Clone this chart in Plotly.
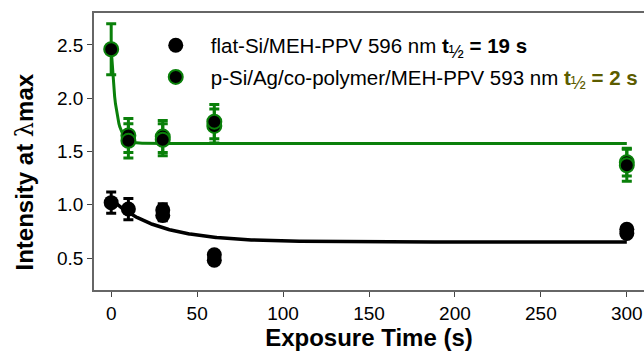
import numpy as np
import plotly.graph_objects as go

# ---- data ----
time_flat = [0, 10, 30, 30, 60, 60, 300, 300]
int_flat = [1.02, 0.96, 0.95, 0.90, 0.53, 0.48, 0.77, 0.73]
err_flat = [0.10, 0.10, 0.06, 0.05, 0.03, 0.03, 0.03, 0.03]

time_p = [0, 10, 10, 30, 30, 60, 60, 300, 300]
int_p = [2.46, 1.65, 1.60, 1.64, 1.61, 1.74, 1.78, 1.40, 1.37]
err_p = [0.24, 0.16, 0.16, 0.15, 0.15, 0.16, 0.16, 0.13, 0.15]

# exponential fits: plateau, amplitude, half-life (s)
fit_flat = dict(plateau=0.65, amp=0.40, thalf=19)
fit_p = dict(plateau=1.575, amp=0.885, thalf=2)

x_ticks = [0, 50, 100, 150, 200, 250, 300]
y_ticks = [0.5, 1.0, 1.5, 2.0, 2.5]

GREEN = "#0a800a"
OLIVE = "#5c5c00"

t_fit = np.linspace(0, 300, 601)


def fit_curve(p):
    return p["plateau"] + p["amp"] * np.exp(-np.log(2) / p["thalf"] * t_fit)


HALF = "<b>t</b><sub><span style='font-size:18px'>½</span></sub>"

fig = go.Figure()

fig.add_trace(go.Scatter(x=t_fit, y=fit_curve(fit_p), mode="lines",
                         line=dict(color=GREEN, width=3), showlegend=False,
                         hoverinfo="skip"))
fig.add_trace(go.Scatter(x=t_fit, y=fit_curve(fit_flat), mode="lines",
                         line=dict(color="black", width=3.5), showlegend=False,
                         hoverinfo="skip"))

fig.add_trace(go.Scatter(
    x=time_flat, y=int_flat, mode="markers",
    name="flat-Si/MEH-PPV 596 nm " + HALF + "<b> = 19 s</b>",
    marker=dict(color="black", size=15, line=dict(color="black", width=0)),
    error_y=dict(type="data", array=err_flat, color="black", thickness=3, width=5),
    legendgroup="a",
))
fig.add_trace(go.Scatter(
    x=time_p, y=int_p, mode="markers",
    name="p-Si/Ag/co-polymer/MEH-PPV 593 nm "
         "<span style='color:%s'>" % OLIVE + HALF + "<b> = 2 s</b></span>",
    marker=dict(color="black", size=14, line=dict(color=GREEN, width=2)),
    error_y=dict(type="data", array=err_p, color=GREEN, thickness=3, width=5),
    legendgroup="b",
))

fig.update_layout(
    width=644, height=352,
    margin=dict(l=94, r=0, t=13, b=62),
    paper_bgcolor="white", plot_bgcolor="white",
    font=dict(family="Liberation Sans, Arial, sans-serif", color="black", size=19),
    showlegend=True,
    legend=dict(x=0.085, y=0.955, xanchor="left", yanchor="top",
                bgcolor="rgba(0,0,0,0)", font=dict(size=20.5),
                itemwidth=60, tracegroupgap=2, traceorder="grouped"),
    xaxis=dict(range=[-10, 310], tickvals=x_ticks, ticks="outside", ticklen=5,
               tickwidth=1.2, tickcolor="#444", showgrid=False, zeroline=False,
               showline=True, linecolor="#666", linewidth=1.5, mirror=True,
               tickfont=dict(size=19),
               title=dict(text="<b>Exposure Time (s)</b>", font=dict(size=24),
                          standoff=6)),
    yaxis=dict(range=[0.2, 2.8], tickvals=y_ticks, ticktext=["0.5", "1.0", "1.5", "2.0", "2.5"],
               ticks="outside", ticklen=5, tickwidth=1.2, tickcolor="#444",
               showgrid=False, zeroline=False, showline=True, linecolor="#666",
               linewidth=1.5, tickfont=dict(size=19)),
    annotations=[dict(
        text="<b>Intensity at </b><span style='font-family:DejaVu Serif'>λ</span><b>max</b>",
        xref="paper", yref="paper", x=-0.125, y=0.425, xanchor="center", yanchor="middle",
        textangle=-90, showarrow=False, font=dict(size=24))],
)

fig.write_html("out.html")
